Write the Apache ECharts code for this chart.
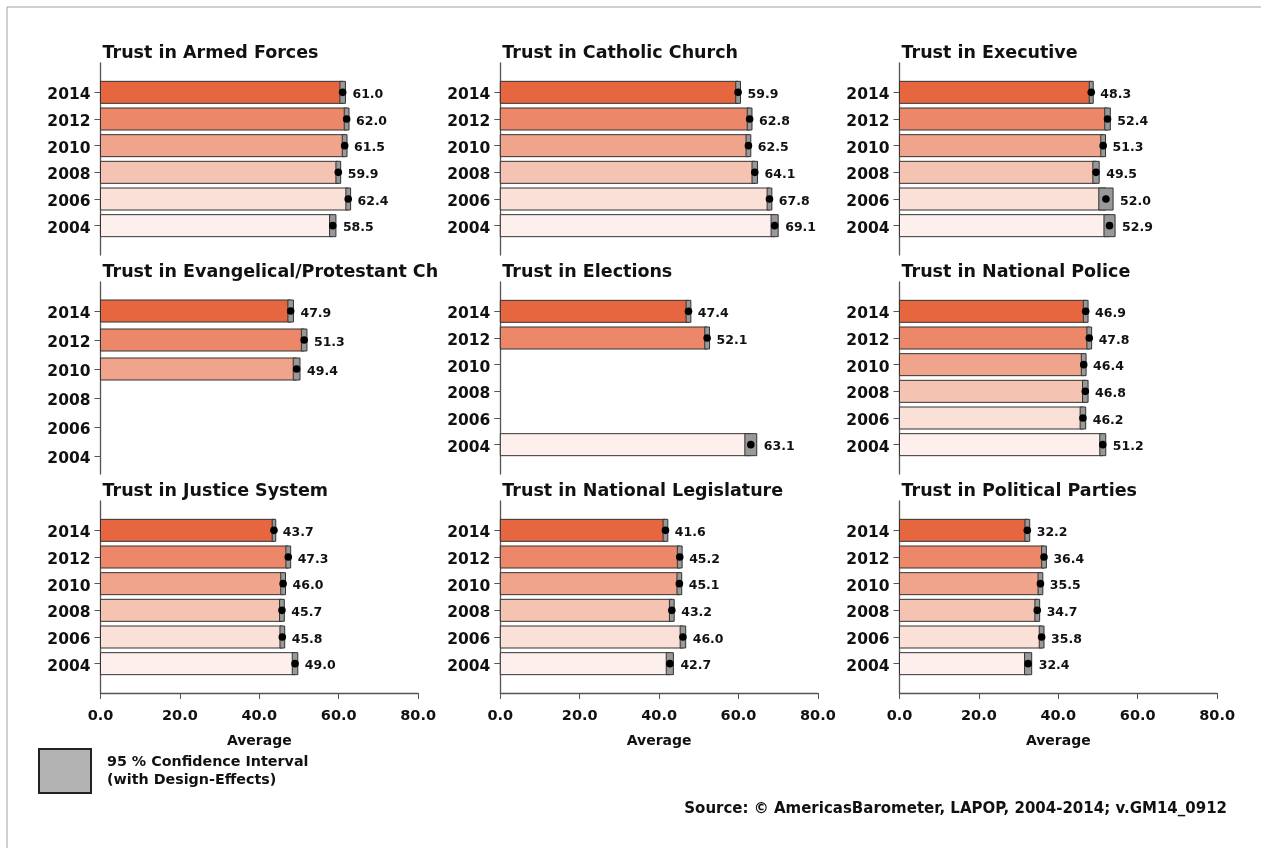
<!DOCTYPE html>
<html>
<head>
    <meta charset="utf-8">
    <title>Trust in Institutions</title>
    <script src="https://cdn.jsdelivr.net/npm/echarts@6/dist/echarts.min.js"></script>
    <style>
        html, body { margin: 0; padding: 0; background: #fff; }
        #chart1 { width: 1261px; height: 848px; }
    </style>
</head>
<body>
<div id="chart1"></div>
<script type="text/javascript">
    // years, top to bottom
    var years = ['2014', '2012', '2010', '2008', '2006', '2004'];
    var xTicks = [0, 20, 40, 60, 80];

    var panelTitles = ['Trust in Armed Forces', 'Trust in Catholic Church', 'Trust in Executive',
        'Trust in Evangelical/Protestant Ch', 'Trust in Elections', 'Trust in National Police',
        'Trust in Justice System', 'Trust in National Legislature', 'Trust in Political Parties'];

    // means and 95% CI half widths
    var armedForces = [61.0, 62.0, 61.5, 59.9, 62.4, 58.5];
    var armedForcesCI = [0.7, 0.6, 0.6, 0.6, 0.6, 0.8];
    var catholicChurch = [59.9, 62.8, 62.5, 64.1, 67.8, 69.1];
    var catholicChurchCI = [0.6, 0.6, 0.6, 0.7, 0.6, 0.9];
    var executive = [48.3, 52.4, 51.3, 49.5, 52.0, 52.9];
    var executiveCI = [0.5, 0.7, 0.6, 0.8, 1.8, 1.4];
    var evangelical = [47.9, 51.3, 49.4, null, null, null];
    var evangelicalCI = [0.7, 0.7, 0.85, null, null, null];
    var elections = [47.4, 52.1, null, null, null, 63.1];
    var electionsCI = [0.6, 0.6, null, null, null, 1.5];
    var police = [46.9, 47.8, 46.4, 46.8, 46.2, 51.2];
    var policeCI = [0.6, 0.6, 0.6, 0.7, 0.7, 0.75];
    var justice = [43.7, 47.3, 46.0, 45.7, 45.8, 49.0];
    var justiceCI = [0.45, 0.6, 0.6, 0.6, 0.6, 0.7];
    var legislature = [41.6, 45.2, 45.1, 43.2, 46.0, 42.7];
    var legislatureCI = [0.6, 0.6, 0.6, 0.6, 0.7, 0.9];
    var parties = [32.2, 36.4, 35.5, 34.7, 35.8, 32.4];
    var partiesCI = [0.6, 0.6, 0.6, 0.6, 0.6, 0.9];

    var panelMeans = [armedForces, catholicChurch, executive, evangelical, elections, police, justice, legislature, parties];
    var panelCI = [armedForcesCI, catholicChurchCI, executiveCI, evangelicalCI, electionsCI, policeCI, justiceCI, legislatureCI, partiesCI];

    var yearColors = ['#e5663f', '#ec8769', '#f0a48b', '#f5c3b2', '#fae0d6', '#fdf0ec'];
    var ciName = '95 % Confidence Interval\n(with Design-Effects)';
    var font = '"DejaVu Sans", Verdana, sans-serif';

    var colLeft = [100.5, 500.3, 899.5];
    var rowTop = [63, 282, 501];
    var gridW = 317.6, gridH = 192;

    var myChart1 = echarts.init(document.getElementById('chart1'));

    function renderItem(params, api) {
        var idx = api.value(0);
        var mean = api.value(1);
        var half = api.value(2);
        var base = api.coord([0, idx]);
        var y = base[1];
        var xm = api.coord([mean, idx])[0];
        var xl = api.coord([mean - half, idx])[0];
        var xh = api.coord([mean + half, idx])[0];
        var h = 22;
        return {
            type: 'group',
            children: [
                {type: 'rect', shape: {x: base[0], y: y - h / 2, width: xm - base[0], height: h},
                    style: {fill: yearColors[idx], stroke: '#333', lineWidth: 1}},
                {type: 'rect', shape: {x: xl, y: y - h / 2, width: xh - xl, height: h},
                    style: {fill: '#999', stroke: '#333', lineWidth: 1}},
                {type: 'circle', shape: {cx: xm, cy: y, r: 3.8}, style: {fill: '#000'}},
                {type: 'text', x: xh + 7, y: y + 2.5,
                    style: {text: mean.toFixed(1), fill: '#111', font: 'bold 12.5px ' + font, verticalAlign: 'middle'}}
            ]
        };
    }

    var grids = [], xAxes = [], yAxes = [], series = [], titles = [];
    for (var p = 0; p < 9; p++) {
        var r = Math.floor(p / 3), c = p % 3;
        var bottomRow = r === 2;
        // Evangelical panel has wider year spacing in the original
        var yMin = p === 3 ? -1.0 : -1.1;
        var yMax = p === 3 ? 5.62 : 6.1;
        grids.push({left: colLeft[c], top: rowTop[r], width: gridW, height: gridH});
        xAxes.push({
            type: 'value', gridIndex: p, min: 0, max: 80, interval: 20,
            show: bottomRow,
            axisLine: {show: true, onZero: false, lineStyle: {color: '#555', width: 1.3}},
            axisTick: {show: true, length: 6, lineStyle: {color: '#555'}},
            splitLine: {show: false},
            axisLabel: {customValues: xTicks, formatter: function (v) { return v.toFixed(1); },
                color: '#111', fontFamily: font, fontWeight: 'bold', fontSize: 14.5, margin: 16},
            name: 'Average', nameLocation: 'middle', nameGap: 41,
            nameTextStyle: {color: '#111', fontFamily: font, fontWeight: 'bold', fontSize: 14}
        });
        yAxes.push({
            type: 'value', gridIndex: p, inverse: true, min: yMin, max: yMax,
            axisLine: {show: true, onZero: false, lineStyle: {color: '#555', width: 1.3}},
            axisTick: {show: true, length: 6, customValues: [0, 1, 2, 3, 4, 5], lineStyle: {color: '#555'}},
            splitLine: {show: false},
            axisLabel: {customValues: [0, 1, 2, 3, 4, 5], formatter: function (v) { return '{y|' + years[v] + '}'; },
                margin: 10,
                rich: {y: {color: '#111', fontFamily: font, fontWeight: 'bold', fontSize: 15.5, padding: [6, 0, 0, 0]}}}
        });
        var data = [];
        for (var i = 0; i < years.length; i++) {
            if (panelMeans[p][i] != null) data.push([i, panelMeans[p][i], panelCI[p][i]]);
        }
        series.push({
            name: ciName, type: 'custom', xAxisIndex: p, yAxisIndex: p,
            itemStyle: {color: '#b3b3b3'},
            encode: {x: 1, y: 0},
            renderItem: renderItem,
            data: data
        });
        titles.push({
            text: panelTitles[p], left: colLeft[c] + 2, top: rowTop[r] - 20, padding: 0,
            textStyle: {color: '#111', fontFamily: font, fontWeight: 'bold', fontSize: 17.5, lineHeight: 20}
        });
    }
    titles.push({
        text: 'Source: \u00a9 AmericasBarometer, LAPOP, 2004-2014; v.GM14_0912',
        right: 34, top: 802, padding: 0,
        textStyle: {color: '#111', fontFamily: font, fontWeight: 'bold', fontSize: 15}
    });

    myChart1.setOption({
        animation: false,
        title: titles,
        grid: grids,
        xAxis: xAxes,
        yAxis: yAxes,
        series: series,
        legend: {
            left: 38, top: 748, padding: 0, itemWidth: 52, itemHeight: 44, selectedMode: false,
            data: [{name: ciName, icon: 'rect', itemStyle: {color: '#b3b3b3', borderColor: '#222', borderWidth: 2}}],
            textStyle: {color: '#111', fontFamily: font, fontWeight: 'bold', fontSize: 14.3, lineHeight: 18, padding: [0, 0, 0, 11]}
        },
        graphic: [{
            type: 'rect', silent: true,
            shape: {x: 7, y: 7, width: 1400, height: 1000},
            style: {fill: 'none', stroke: '#a0a0a0', lineWidth: 1}
        }]
    });
</script>
</body>
</html>
